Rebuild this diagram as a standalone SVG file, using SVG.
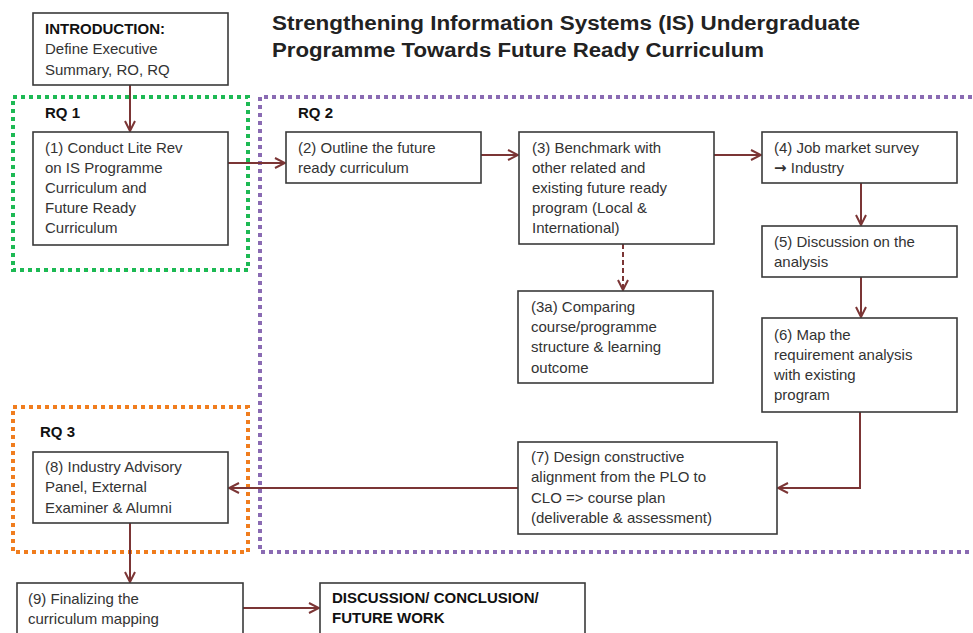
<svg xmlns="http://www.w3.org/2000/svg" width="973" height="633" viewBox="0 0 973 633">
<style>
.box{fill:#fff;stroke:#3a3a3a;stroke-width:1.6}
.t{font-family:"Liberation Sans",Arial,sans-serif;font-size:15px;fill:#333}
.b{font-family:"Liberation Sans",Arial,sans-serif;font-size:15px;font-weight:bold;fill:#111}
.title{font-family:"Liberation Sans",Arial,sans-serif;font-size:20px;font-weight:bold;fill:#222}
.c{fill:none;stroke:#7b3535;stroke-width:2;marker-end:url(#ah)}
.grp{fill:none;stroke-width:4;stroke-dasharray:4 4}
</style>
<defs>
<marker id="ah" viewBox="0 0 12 12" refX="11" refY="6" markerWidth="12" markerHeight="12" markerUnits="userSpaceOnUse" orient="auto">
<path d="M1,1 L11,6 L1,11" fill="none" stroke="#7b3535" stroke-width="2"/>
</marker>
</defs>
<rect width="973" height="633" fill="#fff"/>
<g id="title">
<text class="title" x="272" y="30" textLength="588" lengthAdjust="spacingAndGlyphs">Strengthening Information Systems (IS) Undergraduate</text>
<text class="title" x="272" y="57" textLength="492" lengthAdjust="spacingAndGlyphs">Programme Towards Future Ready Curriculum</text>
</g>
<g id="groups">
<g id="rq1"><rect class="grp" x="13" y="97" width="235" height="173" stroke="#1db954"/><text class="b" x="45" y="118">RQ 1</text></g>
<g id="rq2"><path class="grp" d="M980,97 H260 V552 H980" stroke="#8a6bb3"/><text class="b" x="298" y="118">RQ 2</text></g>
<g id="rq3"><rect class="grp" x="13" y="407" width="235" height="145" stroke="#f07d1e"/><text class="b" x="40" y="437">RQ 3</text></g>
</g>
<g id="connectors">
<path class="c" d="M130,85 V131"/>
<path class="c" d="M228,163 H285"/>
<path class="c" d="M481,155 H518"/>
<path class="c" d="M714,155 H761"/>
<path class="c" d="M861,183 V225"/>
<path class="c" d="M861,277 V317"/>
<path class="c" d="M623,244 V290" stroke-dasharray="5 3"/>
<path class="c" d="M860,412 V488 H778"/>
<path class="c" d="M518,488 H229"/>
<path class="c" d="M130,523 V582"/>
<path class="c" d="M243,608 H319"/>
</g>
<g id="intro">
<rect class="box" x="33" y="13" width="195" height="72"/>
<text class="b" x="45" y="34">INTRODUCTION:</text>
<text class="t" x="45" y="54">Define Executive</text>
<text class="t" x="45" y="75">Summary, RO, RQ</text>
</g>
<g id="n1">
<rect class="box" x="33" y="132" width="195" height="113"/>
<text class="t" x="45" y="153">(1) Conduct Lite Rev</text>
<text class="t" x="45" y="173">on IS Programme</text>
<text class="t" x="45" y="193">Curriculum and</text>
<text class="t" x="45" y="213">Future Ready</text>
<text class="t" x="45" y="233">Curriculum</text>
</g>
<g id="n2">
<rect class="box" x="286" y="132" width="195" height="51"/>
<text class="t" x="298" y="153">(2) Outline the future</text>
<text class="t" x="298" y="173">ready curriculum</text>
</g>
<g id="n3">
<rect class="box" x="519" y="132" width="195" height="112"/>
<text class="t" x="532" y="153">(3) Benchmark with</text>
<text class="t" x="532" y="173">other related and</text>
<text class="t" x="532" y="193">existing future ready</text>
<text class="t" x="532" y="213">program (Local &amp;</text>
<text class="t" x="532" y="233">International)</text>
</g>
<g id="n3a">
<rect class="box" x="518" y="291" width="195" height="92"/>
<text class="t" x="531" y="312">(3a) Comparing</text>
<text class="t" x="531" y="332">course/programme</text>
<text class="t" x="531" y="352">structure &amp; learning</text>
<text class="t" x="531" y="373">outcome</text>
</g>
<g id="n4">
<rect class="box" x="762" y="132" width="195" height="51"/>
<text class="t" x="774" y="153">(4) Job market survey</text>
<text class="t" x="774" y="173"><tspan font-family="DejaVu Sans, sans-serif" font-weight="bold">→</tspan> Industry</text>
</g>
<g id="n5">
<rect class="box" x="762" y="226" width="195" height="51"/>
<text class="t" x="774" y="247">(5) Discussion on the</text>
<text class="t" x="774" y="267">analysis</text>
</g>
<g id="n6">
<rect class="box" x="762" y="318" width="195" height="94"/>
<text class="t" x="774" y="340">(6) Map the</text>
<text class="t" x="774" y="360">requirement analysis</text>
<text class="t" x="774" y="380">with existing</text>
<text class="t" x="774" y="400">program</text>
</g>
<g id="n7">
<rect class="box" x="518" y="442" width="259" height="92"/>
<text class="t" x="531" y="462">(7) Design constructive</text>
<text class="t" x="531" y="482">alignment from the PLO to</text>
<text class="t" x="531" y="503">CLO =&gt; course plan</text>
<text class="t" x="531" y="523">(deliverable &amp; assessment)</text>
</g>
<g id="n8">
<rect class="box" x="33" y="452" width="195" height="71"/>
<text class="t" x="45" y="472">(8) Industry Advisory</text>
<text class="t" x="45" y="492">Panel, External</text>
<text class="t" x="45" y="513">Examiner &amp; Alumni</text>
</g>
<g id="n9">
<rect class="box" x="17" y="583" width="226" height="60"/>
<text class="t" x="28" y="604">(9) Finalizing the</text>
<text class="t" x="28" y="624">curriculum mapping</text>
</g>
<g id="discussion">
<rect class="box" x="320" y="583" width="265" height="60"/>
<text class="b" x="332" y="603">DISCUSSION/ CONCLUSION/</text>
<text class="b" x="332" y="623">FUTURE WORK</text>
</g>
</svg>
